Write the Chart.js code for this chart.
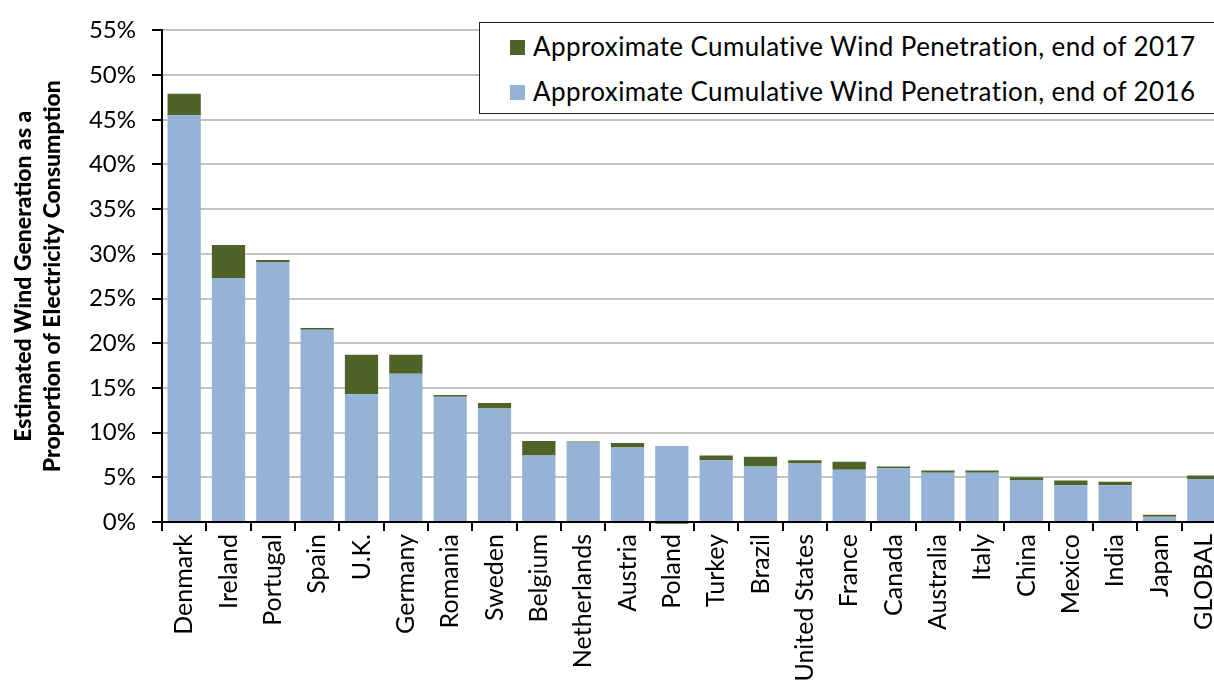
<!DOCTYPE html>
<html>
<head>
<meta charset="utf-8">
<script src="https://cdn.jsdelivr.net/npm/chart.js@4.4.1/dist/chart.umd.min.js"></script>
<style>
  html, body { margin: 0; padding: 0; background: #fff; overflow: hidden; }
  #wrap { position: relative; width: 1240px; height: 690px; }
  #legendBox {
    position: absolute; left: 479px; top: 22px; width: 780px; height: 90px;
    border: 1.5px solid #222; background: #fff;
    font-family: Lato, "Open Sans", sans-serif; font-size: 26px; letter-spacing: 0.4px; color: #000;
  }
  .item { position: absolute; left: 30px; height: 30px; line-height: 30px; white-space: nowrap; }
  .item span.sw { display: inline-block; width: 15px; height: 15px; margin-right: 8px; vertical-align: 1px; }
</style>
</head>
<body>
<div id="wrap">
  <canvas id="windChart" width="1240" height="690"></canvas>
  <div id="legendBox">
    <div class="item" style="top:8px"><span class="sw" style="background:#4F6228"></span>Approximate Cumulative Wind Penetration, end of 2017</div>
    <div class="item" style="top:53px"><span class="sw" style="background:#95B3D7"></span>Approximate Cumulative Wind Penetration, end of 2016</div>
  </div>
</div>
<script>
// negara / wilayah
const countries = ["Denmark", "Ireland", "Portugal", "Spain", "U.K.", "Germany", "Romania", "Sweden",
  "Belgium", "Netherlands", "Austria", "Poland", "Turkey", "Brazil", "United States", "France",
  "Canada", "Australia", "Italy", "China", "Mexico", "India", "Japan", "GLOBAL"];

// penetrasi akhir 2016 (%)
const share2016 = [45.5, 27.3, 29.1, 21.5, 14.3, 16.6, 14.0, 12.7, 7.45, 8.9, 8.33, 8.5,
  6.9, 6.2, 6.55, 5.85, 6.0, 5.5, 5.5, 4.65, 4.1, 4.1, 0.6, 4.8];

// tambahan sampai akhir 2017 (%)
const added2017 = [2.4, 3.7, 0.2, 0.2, 4.4, 2.1, 0.2, 0.6, 1.6, 0.1, 0.52, -0.2,
  0.55, 1.1, 0.35, 0.9, 0.2, 0.25, 0.25, 0.35, 0.55, 0.4, 0.2, 0.4];

const yTicks = [0, 5, 10, 15, 20, 25, 30, 35, 40, 45, 50, 55];

const fontFam = "Lato, 'Open Sans', sans-serif";

new Chart(document.getElementById("windChart"), {
    type: "bar",
    data: {
        labels: countries,
        datasets: [{
            label: "Approximate Cumulative Wind Penetration, end of 2016",
            data: share2016,
            backgroundColor: "#95B3D7",
            borderWidth: 0
        }, {
            label: "Approximate Cumulative Wind Penetration, end of 2017",
            data: added2017,
            backgroundColor: "#4F6228",
            borderWidth: 0,
            clip: false
        }]
    },
    options: {
        responsive: false,
        animation: false,
        layout: { padding: { top: 25, right: 14, left: 0, bottom: 0 } },
        datasets: { bar: { categoryPercentage: 1, barPercentage: 0.75 } },
        plugins: { legend: { display: false }, tooltip: { enabled: false } },
        scales: {
            x: {
                stacked: true,
                afterFit: function (s) { s.height = 168; },
                border: { color: "#000", width: 2 },
                grid: { drawOnChartArea: false, offset: true, tickLength: 9, tickColor: "#000", lineWidth: 2 },
                ticks: {
                    minRotation: 90, maxRotation: 90, padding: 3, autoSkip: false,
                    color: "#000", font: { family: fontFam, size: 25 }
                }
            },
            y: {
                stacked: true,
                min: 0, max: 55,
                afterFit: function (s) { s.width = 162; },
                afterBuildTicks: function (s) { s.ticks = yTicks.map(v => ({ value: v })); },
                border: { color: "#000", width: 2 },
                grid: { color: "#c4c4c4", lineWidth: 2, tickColor: "#000", tickLength: 10 },
                ticks: {
                    padding: 16, color: "#000", font: { family: fontFam, size: 24 },
                    callback: v => v + "%"
                },
                title: {
                    display: true,
                    text: ["Estimated Wind Generation as a", "Proportion of Electricity Consumption"],
                    color: "#000",
                    font: { family: fontFam, size: 23, weight: "900", lineHeight: 1.25 },
                    padding: { top: 9, bottom: 0 }
                }
            }
        }
    }
});
</script>
</body>
</html>
